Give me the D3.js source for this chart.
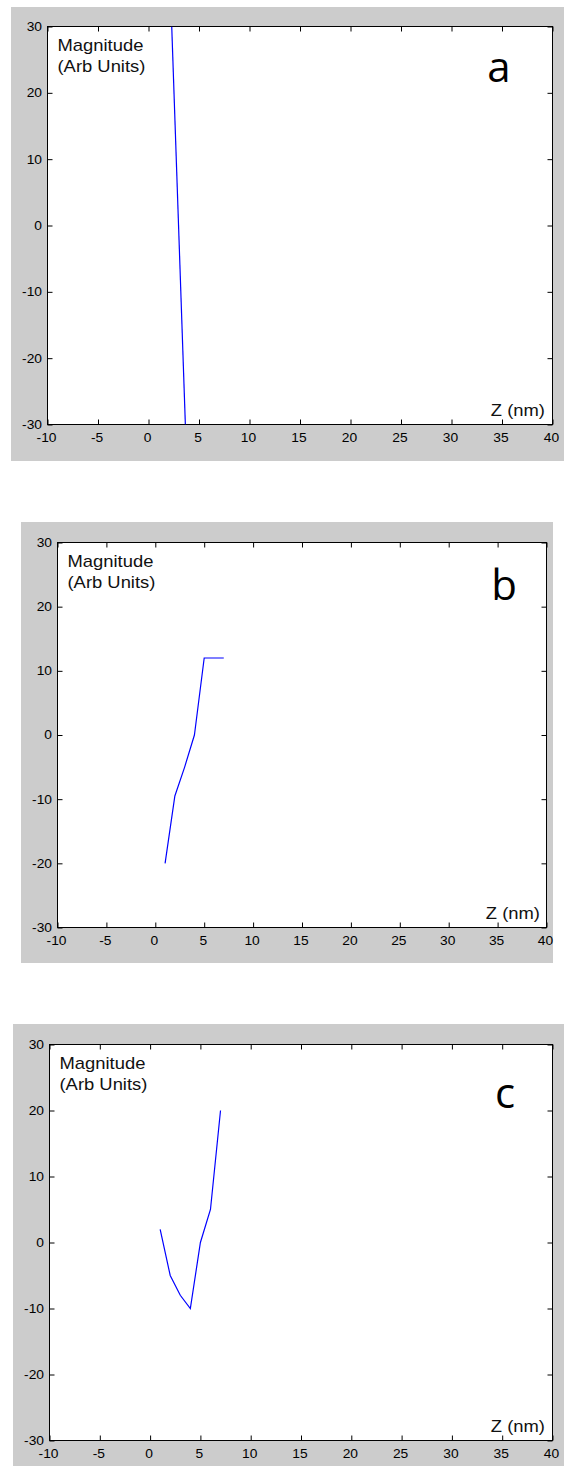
<!DOCTYPE html>
<html><head><meta charset="utf-8">
<script src="https://cdn.jsdelivr.net/npm/d3@7"></script>
<style>body{margin:0;background:#fff}</style>
</head><body>
<svg id="fig" width="564" height="1466"></svg>
<script>
// Axis ticks shared by all three panels
const xTicks = [-10, -5, 0, 5, 10, 15, 20, 25, 30, 35, 40];
const yTicks = [-30, -20, -10, 0, 10, 20, 30];
const panelLetters = ["a", "b", "c"];
const yTitle = ["Magnitude", "(Arb Units)"];
const xTitle = "Z (nm)";

// Magnitude vs Z for each panel
const zA = [2.3, 3.65];
const magA = [30, -30];
const zB = [1, 2, 3, 4, 5, 6, 7];
const magB = [-20, -9.5, -5, 0, 12, 12, 12];
const zC = [1, 2, 3, 4, 5, 6, 7];
const magC = [2, -5, -8, -10, 0, 5, 20];

const series = [
  zA.map((z, i) => [z, magA[i]]),
  zB.map((z, i) => [z, magB[i]]),
  zC.map((z, i) => [z, magC[i]])
];

// Panel frames: grey figure background and the white axes box
const frames = [
  {bg: [11, 7, 564, 461],     plot: [47.5, 26.5, 552.5, 424.5],   letter: [499, 81.5],  xt: 7.5, xb: 8.5},
  {bg: [21, 522, 553, 963],   plot: [57.5, 542.5, 546.5, 927.5],  letter: [504, 600],   xt: 6.5, xb: 9},
  {bg: [13, 1024, 564, 1476], plot: [49.5, 1044.5, 552.5, 1440.5], letter: [505, 1108], xt: 7.5, xb: 8.5}
];

const SX = 1.15; // horizontal stretch of the text glyphs
const svg = d3.select("#fig");
const tickFont = "'Liberation Sans', Arial, sans-serif";
const fmt = v => String(v); // plain hyphen-minus labels

frames.forEach((f, k) => {
  const [bx0, by0, bx1, by1] = f.bg;
  const [px0, py0, px1, py1] = f.plot;
  const g = svg.append("g");

  g.append("rect").attr("x", bx0).attr("y", by0)
    .attr("width", bx1 - bx0).attr("height", by1 - by0).attr("fill", "#cccccc");
  g.append("rect").attr("x", px0).attr("y", py0)
    .attr("width", px1 - px0).attr("height", py1 - py0).attr("fill", "#ffffff");

  const x = d3.scaleLinear().domain([-10, 40]).range([px0, px1]);
  const y = d3.scaleLinear().domain([-30, 30]).range([py1, py0]);

  const styleAxis = sel => {
    sel.select(".domain").remove();
    sel.selectAll("line").attr("stroke", "#000");
    sel.selectAll("text").attr("fill", "#000")
      .style("font-family", tickFont).style("font-size", "12px")
      .attr("transform", `scale(${SX},1)`);
  };

  g.append("g").attr("transform", `translate(0,${py1})`)
    .call(d3.axisBottom(x).tickValues(xTicks).tickFormat(fmt)
      .tickSizeInner(-5).tickSizeOuter(0).tickPadding(9))
    .call(styleAxis)
    .selectAll("text").attr("x", -1.5 / SX);
  g.append("g").attr("transform", `translate(0,${py0})`)
    .call(d3.axisTop(x).tickValues(xTicks).tickFormat("").tickSizeInner(-5).tickSizeOuter(0))
    .call(styleAxis);
  g.append("g").attr("transform", `translate(${px0},0)`)
    .call(d3.axisLeft(y).tickValues(yTicks).tickFormat(fmt)
      .tickSizeInner(-5).tickSizeOuter(0).tickPadding(4.8))
    .call(styleAxis);
  g.append("g").attr("transform", `translate(${px1},0)`)
    .call(d3.axisRight(y).tickValues(yTicks).tickFormat("").tickSizeInner(-5).tickSizeOuter(0))
    .call(styleAxis);

  // axes box
  g.append("rect").attr("x", px0).attr("y", py0)
    .attr("width", px1 - px0).attr("height", py1 - py0)
    .attr("fill", "none").attr("stroke", "#000").attr("stroke-width", 1);

  // data curve
  const clipId = "clip" + k;
  g.append("clipPath").attr("id", clipId).append("rect")
    .attr("x", px0).attr("y", py0).attr("width", px1 - px0).attr("height", py1 - py0);
  g.append("path").datum(series[k])
    .attr("clip-path", `url(#${clipId})`)
    .attr("fill", "none").attr("stroke", "#0000ff").attr("stroke-width", 1.2)
    .attr("d", d3.line().x(d => x(d[0])).y(d => y(d[1])));

  // y title inside the box
  yTitle.forEach((t, i) => {
    g.append("text")
      .attr("transform", `translate(${px0 + 10},${py0 + 24.5 + i * 21}) scale(${SX},1)`)
      .style("font-family", tickFont).style("font-size", "16px").attr("fill", "#111")
      .text(t);
  });

  // x title at the lower right corner
  g.append("text")
    .attr("transform", `translate(${px1 - f.xt},${py1 - f.xb}) scale(${SX},1)`)
    .attr("text-anchor", "end")
    .style("font-family", tickFont).style("font-size", "16px").attr("fill", "#111")
    .text(xTitle);

  // panel letter
  g.append("text")
    .attr("x", f.letter[0]).attr("y", f.letter[1]).attr("text-anchor", "middle")
    .style("font-family", "'Open Sans', 'Noto Sans', sans-serif").style("font-size", "42px")
    .attr("fill", "#000")
    .text(panelLetters[k]);
});
</script>
</body></html>
